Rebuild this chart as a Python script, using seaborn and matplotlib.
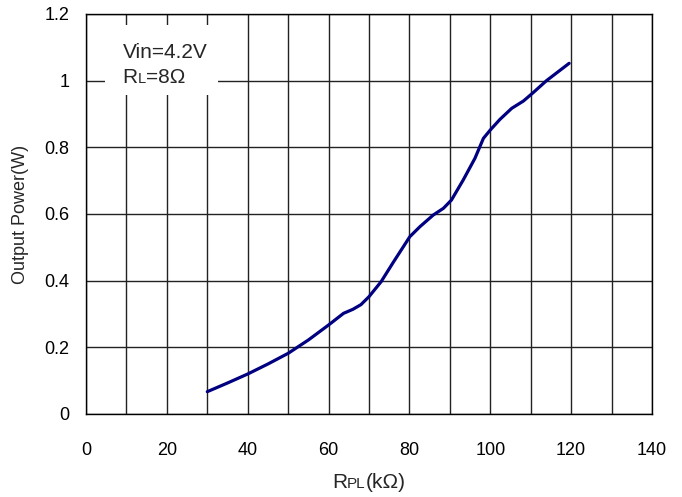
import matplotlib
matplotlib.use("Agg")
import matplotlib.pyplot as plt
import seaborn as sns
import pandas as pd
from matplotlib.offsetbox import TextArea, HPacker, AnnotationBbox
from matplotlib.patches import Rectangle

# ---- data ----
rpl_kohm = [30.0, 35, 40, 45, 50, 55, 60, 63.7, 66, 68, 70, 73, 76, 80.1, 82.6,
            85.9, 88.4, 90.4, 93.3, 96.2, 98.3, 100, 102.4, 105.3, 108.2, 110.6,
            113.9, 119.5]
power_w = [0.067, 0.093, 0.12, 0.15, 0.182, 0.222, 0.267, 0.302, 0.314, 0.328,
           0.352, 0.397, 0.455, 0.532, 0.562, 0.597, 0.617, 0.642, 0.702, 0.767,
           0.827, 0.852, 0.884, 0.917, 0.939, 0.964, 1.0, 1.052]
x_ticks = [0, 20, 40, 60, 80, 100, 120, 140]
x_tick_labels = ["0", "20", "40", "60", "80", "100", "120", "140"]
y_ticks = [0, 0.2, 0.4, 0.6, 0.8, 1.0, 1.2]
y_tick_labels = ["0", "0.2", "0.4", "0.6", "0.8", "1", "1.2"]

df = pd.DataFrame({"RPL": rpl_kohm, "P": power_w})

sns.set_style("white")
plt.rcParams["font.family"] = ["Liberation Sans", "DejaVu Sans"]

fig = plt.figure(figsize=(6.82, 4.97), dpi=100)
ax = fig.add_axes([86 / 682, 1 - 414 / 497, (652 - 86) / 682, (414 - 14) / 497])

sns.lineplot(data=df, x="RPL", y="P", ax=ax, color="#000080", linewidth=2.3,
             zorder=5, sort=False)

ax.set_xlim(0, 140)
ax.set_ylim(0, 1.2)
ax.set_xticks(x_ticks)
ax.set_xticklabels(x_tick_labels)
ax.set_xticks(range(10, 140, 20), minor=True)
ax.set_yticks(y_ticks)
ax.set_yticklabels(y_tick_labels)
ax.tick_params(axis="both", which="both", length=0, labelsize=13, colors="black")
ax.tick_params(axis="x", pad=20)
ax.tick_params(axis="y", pad=12)
ax.grid(True, which="both", color="#222222", linewidth=1.0)
ax.set_axisbelow(True)
for s in ax.spines.values():
    s.set_visible(True)
    s.set_color("black")
    s.set_linewidth(1.0)
ax.set_xlabel("")
ax.set_ylabel("Output Power(W)", fontsize=13)
ax.yaxis.set_label_coords(-0.101, 0.5)

# white box behind annotation
ax.add_patch(Rectangle((4.7, 0.957), 27.9, 0.21, facecolor="white",
                       edgecolor="none", zorder=3))

# annotation text
fig.text(122.7 / 682, 1 - 52.7 / 497, "Vin=4.2V", fontsize=15,
         va="center", ha="left", zorder=6)
rl = HPacker(children=[TextArea("R", textprops=dict(size=15)),
                       TextArea("L", textprops=dict(size=10.5)),
                       TextArea("=8\u03a9", textprops=dict(size=15))],
             align="baseline", pad=0, sep=0)
ab = AnnotationBbox(rl, (122.7, 497 - 77.5), xycoords="figure pixels",
                    box_alignment=(0, 0.5), frameon=False, zorder=6)
fig.add_artist(ab)

# x label "RPL(kΩ)"
xl = HPacker(children=[TextArea("R", textprops=dict(size=15)),
                       TextArea("PL", textprops=dict(size=11)),
                       TextArea("(k\u03a9)", textprops=dict(size=15))],
             align="baseline", pad=0, sep=0)
ab2 = AnnotationBbox(xl, (369, 497 - 483), xycoords="figure pixels",
                     box_alignment=(0.5, 0.5), frameon=False)
fig.add_artist(ab2)

fig.savefig("out.png", dpi=100)
